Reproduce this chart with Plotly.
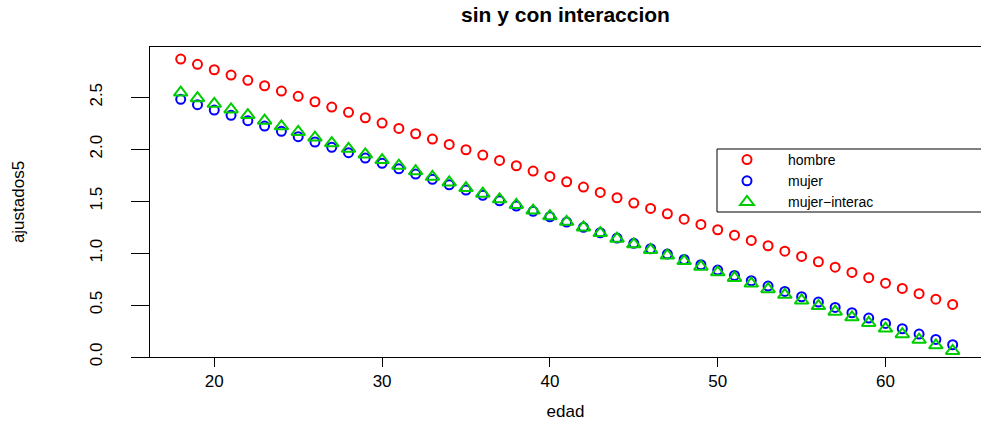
import plotly.graph_objects as go

edad = list(range(18, 65))

hombre = [2.868, 2.817, 2.765, 2.714, 2.663, 2.611, 2.560, 2.509, 2.457, 2.406,
          2.355, 2.303, 2.252, 2.200, 2.149, 2.098, 2.046, 1.995, 1.944, 1.892,
          1.841, 1.790, 1.738, 1.687, 1.636, 1.584, 1.533, 1.482, 1.430, 1.379,
          1.327, 1.276, 1.225, 1.173, 1.122, 1.071, 1.019, 0.968, 0.917, 0.865,
          0.814, 0.763, 0.711, 0.660, 0.609, 0.557, 0.506]

mujer = [2.480, 2.429, 2.377, 2.326, 2.275, 2.223, 2.172, 2.121, 2.069, 2.018,
         1.967, 1.915, 1.864, 1.812, 1.761, 1.710, 1.658, 1.607, 1.556, 1.504,
         1.453, 1.402, 1.350, 1.299, 1.248, 1.196, 1.145, 1.094, 1.042, 0.991,
         0.939, 0.888, 0.837, 0.785, 0.734, 0.683, 0.631, 0.580, 0.529, 0.477,
         0.426, 0.375, 0.323, 0.272, 0.221, 0.169, 0.118]

mujer_interac = [2.545, 2.491, 2.437, 2.383, 2.329, 2.275, 2.221, 2.167, 2.112, 2.058,
                 2.004, 1.950, 1.896, 1.842, 1.788, 1.734, 1.680, 1.626, 1.572, 1.518,
                 1.464, 1.410, 1.355, 1.301, 1.247, 1.193, 1.139, 1.085, 1.031, 0.977,
                 0.923, 0.869, 0.815, 0.761, 0.707, 0.653, 0.599, 0.544, 0.490, 0.436,
                 0.382, 0.328, 0.274, 0.220, 0.166, 0.112, 0.058]

x_ticks = [20, 30, 40, 50, 60]
y_ticks = [0.0, 0.5, 1.0, 1.5, 2.0, 2.5]
y_tick_labels = ["0.0", "0.5", "1.0", "1.5", "2.0", "2.5"]

FONT = "Liberation Sans, Arial, Helvetica, sans-serif"
W, H = 981, 421
ML, MR, MT, MB = 150, 0, 47, 64

fig = go.Figure()
fig.add_trace(go.Scatter(x=edad, y=hombre, mode="markers", name="hombre",
                         marker=dict(symbol="circle-open", size=9, color="#FF0000",
                                     line=dict(width=2, color="#FF0000"))))
fig.add_trace(go.Scatter(x=edad, y=mujer, mode="markers", name="mujer",
                         marker=dict(symbol="circle-open", size=9, color="#0000FF",
                                     line=dict(width=2, color="#0000FF"))))
fig.add_trace(go.Scatter(x=edad, y=mujer_interac, mode="markers", name="mujer\u2212interac",
                         marker=dict(symbol="triangle-up-open", size=12, color="#00CD00",
                                     line=dict(width=2, color="#00CD00"))))

plot_h = H - MT - MB
plot_w = W - ML - MR
# legend box (extends beyond right edge, as in the reference)
fig.add_shape(type="rect", xref="paper", yref="paper",
              x0=(717 - ML) / plot_w, x1=1.05,
              y0=(H - MB - 212) / plot_h, y1=(H - MB - 149) / plot_h,
              line=dict(color="black", width=1), fillcolor="white", layer="above")

fig.update_layout(
    width=W, height=H,
    margin=dict(l=ML, r=MR, t=MT, b=MB, pad=0),
    paper_bgcolor="white", plot_bgcolor="white",
    font=dict(family=FONT, color="black", size=16),
    title=dict(text="<b>sin y con interaccion</b>", x=(ML + W) / 2 / W, xanchor="center",
               y=1 - 15 / H, yanchor="middle", yref="container",
               font=dict(size=21, family=FONT, color="black")),
    showlegend=True,
    legend=dict(x=(706 - ML) / plot_w, xanchor="left",
                y=(H - MB - 181) / plot_h, yanchor="middle",
                bgcolor="rgba(0,0,0,0)", borderwidth=0,
                font=dict(size=14, family=FONT, color="black"),
                itemwidth=72, tracegroupgap=0),
    xaxis=dict(range=[16.17, 65.69], tickmode="array", tickvals=x_ticks,
               ticktext=[str(v) for v in x_ticks],
               showgrid=False, zeroline=False, showline=True, linecolor="black",
               linewidth=1, mirror=True, ticks="outside", ticklen=9, tickwidth=1,
               tickcolor="black", tickfont=dict(size=17),
               title=dict(text="edad", font=dict(size=17), standoff=18)),
    yaxis=dict(range=[0, 2.984], tickmode="array", tickvals=y_ticks,
               ticktext=y_tick_labels, tickangle=-90,
               showgrid=False, zeroline=False, showline=True, linecolor="black",
               linewidth=1, ticks="outside", ticklen=18, tickwidth=1,
               tickcolor="black", tickfont=dict(size=17), ticklabelstandoff=22,
               title=dict(text="ajustados5", font=dict(size=17), standoff=58)),
)

fig.write_html("out.html")
